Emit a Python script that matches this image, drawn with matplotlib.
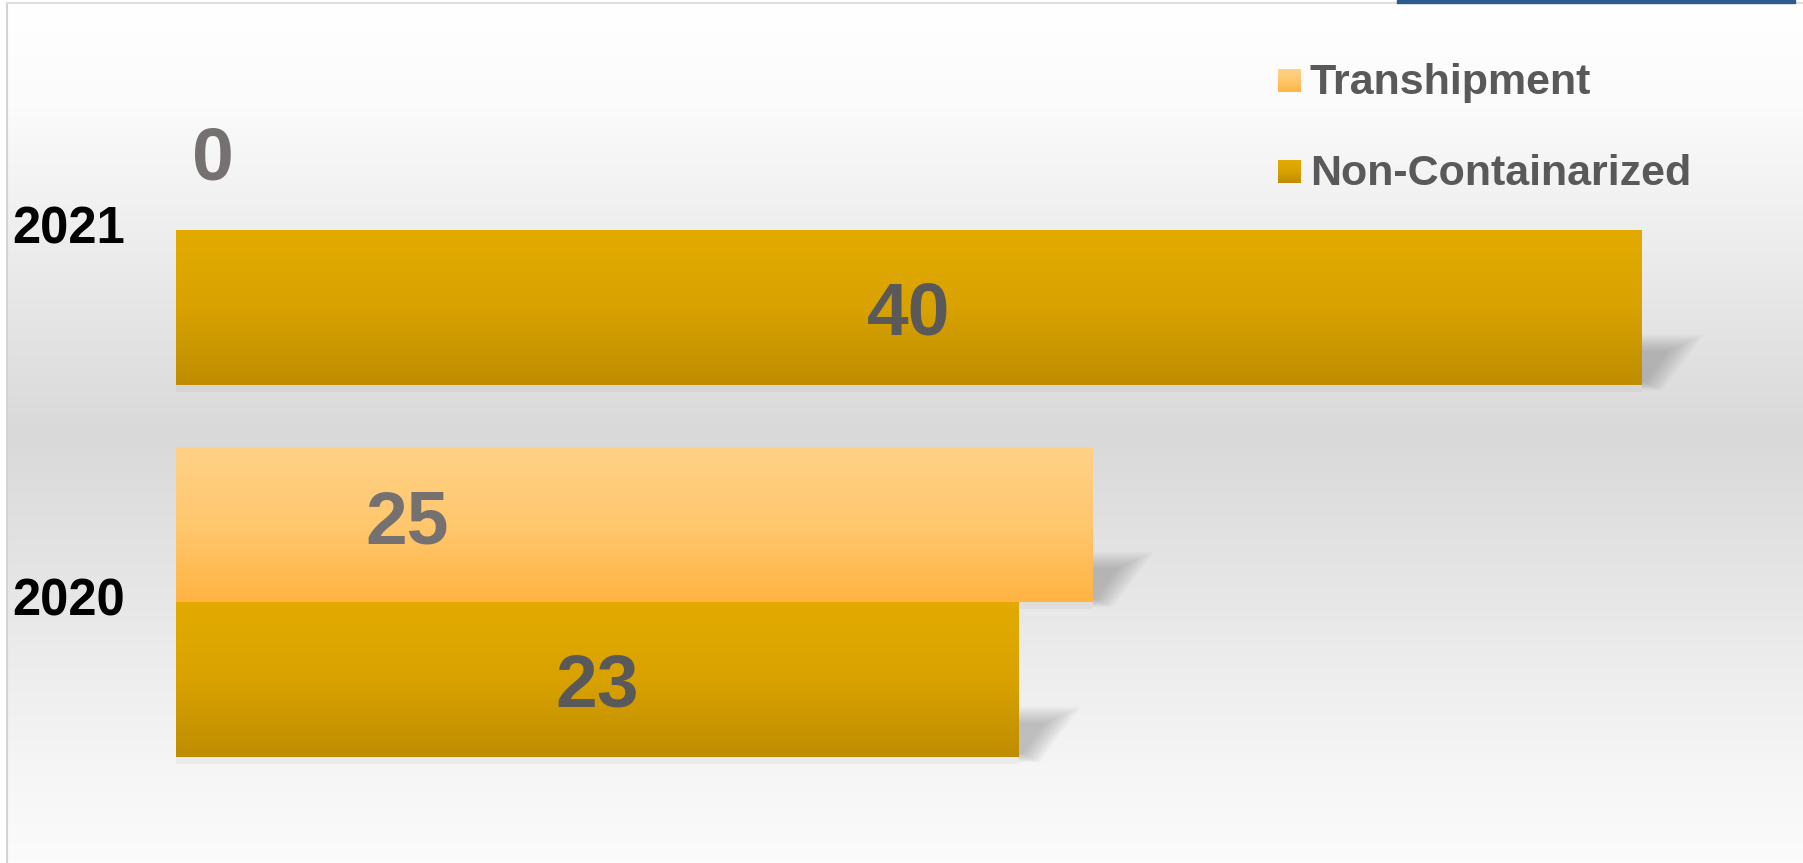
import numpy as np
import matplotlib.pyplot as plt
from matplotlib.colors import LinearSegmentedColormap
from matplotlib.patches import Polygon, Rectangle
from matplotlib.transforms import offset_copy, ScaledTranslation

plt.rcParams['font.family'] = ['Liberation Sans', 'DejaVu Sans']

years = ["2020", "2021"]
non_cont = [23, 40]
tranship = [25, 0]
# the Transhipment labels were moved by hand in the original
tranship_label_x = [6.3, 1.0]
tranship_label_dy = [0.022, 0.0]

W, H, DPI = 1803, 863, 100
fig = plt.figure(figsize=(W / DPI, H / DPI), dpi=DPI)

# background panel in pixel coordinates
bg = fig.add_axes([0, 0, 1, 1])
grad = np.linspace(0, 1, 256).reshape(-1, 1)
bg_cmap = LinearSegmentedColormap.from_list(
    "bg", [(0, "#ffffff"), (0.12, "#fbfbfb"), (0.5, "#d9d9d9"), (0.9, "#f6f6f6"), (1, "#fbfbfb")])
bg.imshow(grad, cmap=bg_cmap, extent=[8, W, H, 4], aspect="auto", zorder=0)
bg.plot([7, 7], [4, H], color="#d3d3d3", lw=1.5, zorder=1)
bg.plot([7, W], [3, 3], color="#dedede", lw=1.5, zorder=1)
bg.add_patch(Rectangle((1397, 0), 398, 3, color="#2d5b8c", zorder=2))

# legend drawn by hand
nc_cmap = LinearSegmentedColormap.from_list("nc", ["#e3ab00", "#d9a200", "#be8d00"])
tr_cmap = LinearSegmentedColormap.from_list("tr", ["#ffd287", "#ffc76e", "#ffb443"])
for name, cmap, base in [("Transhipment", tr_cmap, 94), ("Non-Containarized", nc_cmap, 185)]:
    bg.imshow(grad, cmap=cmap, extent=[1278, 1301, base - 2, base - 25], aspect="auto", zorder=3)
    bg.text(1310, base, name, fontsize=31, fontweight="bold", color="#595959", va="baseline", zorder=3)
bg.set_xlim(0, W)
bg.set_ylim(H, 0)
bg.axis("off")

# main bar axes
px_x = 36.65   # pixels per unit along x
px_y = 372.0   # pixels per category along y
left = 176
ax = fig.add_axes([left / W, 0, (W - left) / W, 1])
ax.patch.set_alpha(0)

y = np.arange(len(years))
h = 155 / px_y
nc_bars = ax.barh(y - h / 2, non_cont, height=h, color="none", zorder=3)
tr_bars = ax.barh(y + h / 2, tranship, height=h, color="none", zorder=3)

sx, sy = 1 / px_x, 1 / px_y
for bars, cmap in [(nc_bars, nc_cmap), (tr_bars, tr_cmap)]:
    for p in bars:
        x0, y0 = p.get_xy()
        w, hh = p.get_width(), p.get_height()
        if w <= 0:
            continue
        im = ax.imshow(grad, cmap=cmap, extent=[x0, x0 + w, y0, y0 + hh], aspect="auto", zorder=3)
        im.set_clip_path(p)
        end = x0 + w
        # soft slanted shadow at the bar end
        for k in range(10):
            g = 1.8 * k
            pts = [(end, y0 + (34 + g) * sy), (end + (26 + 2.2 * g) * sx, y0 + (34 + g) * sy),
                   (end + (4 + g) * sx, y0 + (3 - 0.5 * g) * sy), (end, y0 + (3 - 0.5 * g) * sy)]
            ax.add_patch(Polygon(pts, closed=True, color="#6a6a6a", alpha=0.045, lw=0, zorder=2))
        ax.add_patch(Rectangle((x0, y0 - 7 * sy), w, 7 * sy, color="#000000", alpha=0.035, lw=0, zorder=2))

lab_tr = offset_copy(ax.transData, fig=fig, x=0, y=-27, units="dots")
for i, v in enumerate(non_cont):
    ax.text(v / 2, y[i] - h / 2, str(v), transform=lab_tr, ha="center", va="baseline",
            fontsize=54, fontweight="bold", color="#595959", zorder=5)
for i, v in enumerate(tranship):
    ax.text(tranship_label_x[i], y[i] + h / 2 + tranship_label_dy[i], str(v), transform=lab_tr,
            ha="center", va="baseline", fontsize=54, fontweight="bold", color="#767171", zorder=5)

ax.set_xlim(0, (W - left) / px_x)
ax.set_ylim(-(H - 602) / px_y, 602 / px_y)
ax.set_xticks([])
ax.set_yticks(y, years)
ax.tick_params(axis="y", length=0, pad=118)
lift = ScaledTranslation(0, 5 / DPI, fig.dpi_scale_trans)
for t in ax.get_yticklabels():
    t.set_ha("left")
    t.set_fontsize(36.5)
    t.set_fontweight("bold")
    t.set_color("black")
    t.set_transform(t.get_transform() + lift)
for s in ax.spines.values():
    s.set_visible(False)

fig.savefig("out.png", dpi=DPI)
